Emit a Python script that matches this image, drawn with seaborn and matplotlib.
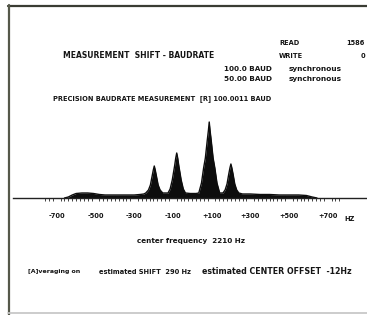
import matplotlib
matplotlib.use("Agg")
import matplotlib.pyplot as plt
import seaborn as sns
import pandas as pd

W, H = 367, 315

# spectrum (offset from centre frequency in Hz, relative amplitude)
freq_hz = [-660, -640, -620, -600, -570, -540, -510, -480, -450, -400, -350, -300,
           -270, -250,
           -240, -226, -216, -207, -201, -196, -191, -185, -176, -166, -152,
           -140,
           -125, -114, -103, -91, -85, -80, -75, -69, -57, -46, -35,
           -10, 20,
           34, 48, 59, 68, 78, 84, 88, 92, 98, 108, 117, 128, 142,
           150,
           159, 170, 180, 189, 195, 200, 205, 211, 220, 230, 241,
           260, 300, 350, 400, 450, 500, 550, 590, 620, 645]
amplitude = [0, 1, 3, 4.5, 5, 5, 4.5, 3.5, 3, 3, 3, 3,
             3.5, 4,
             5, 8, 13, 22, 28, 32, 28, 22, 13, 8, 5,
             5,
             5, 9, 18, 32, 40, 45, 40, 32, 18, 9, 5,
             4.5, 4.5,
             5, 15, 30, 40, 58, 68, 76, 68, 58, 40, 30, 15, 5,
             5,
             5, 8, 14, 24, 30, 34, 30, 24, 14, 8, 5,
             4, 4, 3.5, 3.5, 3, 3, 3, 2.5, 1, 0]

major_ticks = [-700, -500, -300, -100, 100, 300, 500, 700]
major_labels = ["-700", "-500", "-300", "-100", "+100", "+300", "+500", "+700"]
minor_ticks = list(range(-760, 761, 20))

read_count = 1586
write_count = 0
baud_1 = "100.0 BAUD"
baud_2 = "50.00 BAUD"
precision_baud = "100.0011"
center_freq = 2210
shift_hz = 290
center_offset = -12

sns.set_style("white")
plt.rcParams["font.family"] = ["DejaVu Sans"]

fig = plt.figure(figsize=(W / 100, H / 100), dpi=100)

# background layer in pixel coordinates for the screen frame and labels
bg = fig.add_axes([0, 0, 1, 1])
bg.set_xlim(0, W)
bg.set_ylim(H, 0)
bg.axis("off")
bg.plot([8, W], [5.5, 5.5], color="#3a3c33", lw=1.6)
bg.plot([8.5, 8.5], [5, H], color="#55584a", lw=1.6)
bg.plot([8, W], [312.5, 312.5], color="#c4c4c4", lw=1.2)

FS = 4.8


def label(x, y, s, size=FS, ha="left"):
    bg.text(x, y, s, fontsize=size, fontweight="bold", color="#151515",
            va="center", ha=ha)


label(63, 56, "MEASUREMENT  SHIFT - BAUDRATE", 5.5)
label(279, 43, "READ")
label(365, 43, str(read_count), ha="right")
label(279, 56, "WRITE")
label(365, 56, str(write_count), ha="right")
label(224, 69, baud_1, 5.2)
label(289, 69, "synchronous", 5.3)
label(224, 79, baud_2, 5.2)
label(289, 79, "synchronous", 5.3)
label(53, 99, f"PRECISION BAUDRATE MEASUREMENT  [R] {precision_baud} BAUD")
label(350, 219, "HZ", ha="center")
label(191, 241, f"center frequency  {center_freq} Hz", 5.2, ha="center")
label(28, 272, "[A]veraging on", 4.5)
label(99, 272, f"estimated SHIFT  {shift_hz} Hz")
label(202, 272, f"estimated CENTER OFFSET  {center_offset}Hz", 5.7)

# spectrum axes: zero Hz at x=192.2 px, 0.1935 px per Hz, baseline at y=198 px
x0, scale = 192.2, 0.1935
left_px, right_px, base_px, top_px = 13, W, 198, 110
ax = fig.add_axes([left_px / W, (H - base_px) / H,
                   (right_px - left_px) / W, (base_px - top_px) / H])
ax.set_facecolor("none")
ax.set_xlim((left_px - x0) / scale, (right_px - x0) / scale)
ax.set_ylim(0, base_px - top_px)

df = pd.DataFrame({"freq": freq_hz, "amp": amplitude})
ax.fill_between(df["freq"], 0, df["amp"], color="#0d0d0d", lw=0)
sns.lineplot(data=df, x="freq", y="amp", ax=ax, color="#0d0d0d", lw=1.0)

for side in ["top", "right", "left"]:
    ax.spines[side].set_visible(False)
ax.spines["bottom"].set_color("#222222")
ax.spines["bottom"].set_linewidth(1.0)
ax.set_yticks([])
ax.set_xticks(major_ticks)
ax.set_xticklabels(major_labels)
ax.set_xticks(minor_ticks, minor=True)
ax.tick_params(axis="x", which="major", direction="out", length=5.5, width=0.8,
               color="#222222", pad=5, labelsize=FS, labelcolor="#151515")
ax.tick_params(axis="x", which="minor", direction="out", length=2.4, width=0.6,
               color="#222222", bottom=True)
for lab in ax.get_xticklabels():
    lab.set_fontweight("bold")
ax.set_xlabel("")
ax.set_ylabel("")

fig.savefig("out.png", dpi=100)
